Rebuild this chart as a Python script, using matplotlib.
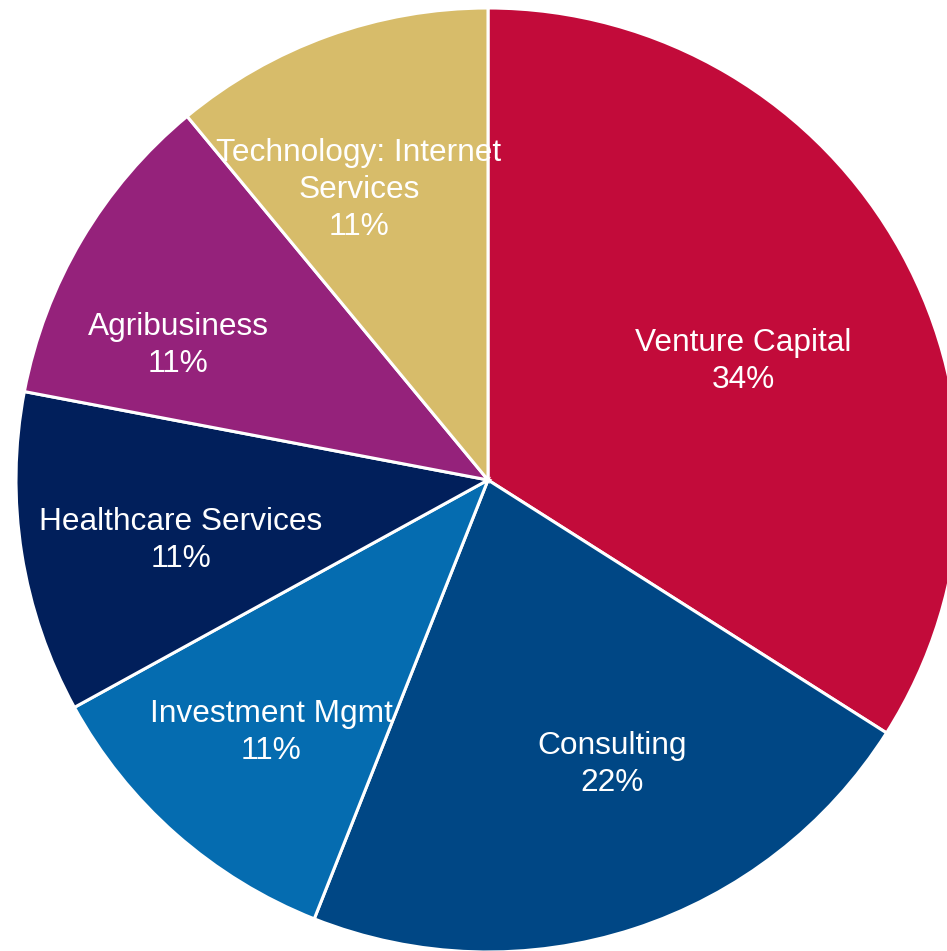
import numpy as np
import matplotlib.pyplot as plt

plt.rcParams['font.family'] = ['Liberation Sans', 'DejaVu Sans']

sectors = ['Venture Capital', 'Consulting', 'Investment Mgmt',
           'Healthcare Services', 'Agribusiness', 'Technology: Internet\nServices']
shares = [34, 22, 11, 11, 11, 11]
colors = ['#C20B3A', '#004785', '#056CB0', '#011F5B', '#95227B', '#D7BC6A']

# label placement: fraction of radius and angular nudge (degrees) from wedge middle
label_dist = [0.596, 0.658, 0.705, 0.663, 0.716, 0.672]
label_turn = [-3.8, 5.5, 0.7, 2.1, 7.1, 4.2]

W, H = 947, 951
cx, cy, r = 488, 480, 472

fig = plt.figure(figsize=(W / 100, H / 100), dpi=100)
ax = fig.add_axes([0, 0, 1, 1])

wedges, _ = ax.pie(shares, colors=colors, startangle=90, counterclock=False,
                   radius=1, center=(0, 0), frame=True,
                   wedgeprops=dict(edgecolor='white', linewidth=2.2))
ax.set_xlim(-cx / r, (W - cx) / r)
ax.set_ylim(-(H - cy) / r, cy / r)
ax.axis('off')

for w, name, val, d, t in zip(wedges, sectors, shares, label_dist, label_turn):
    mid = np.deg2rad((w.theta1 + w.theta2) / 2 + t)
    ax.text(d * np.cos(mid), d * np.sin(mid), f'{name}\n{val}%',
            ha='center', va='center', color='white', fontsize=22.8,
            linespacing=1.3)

fig.savefig('out.png', dpi=100)
